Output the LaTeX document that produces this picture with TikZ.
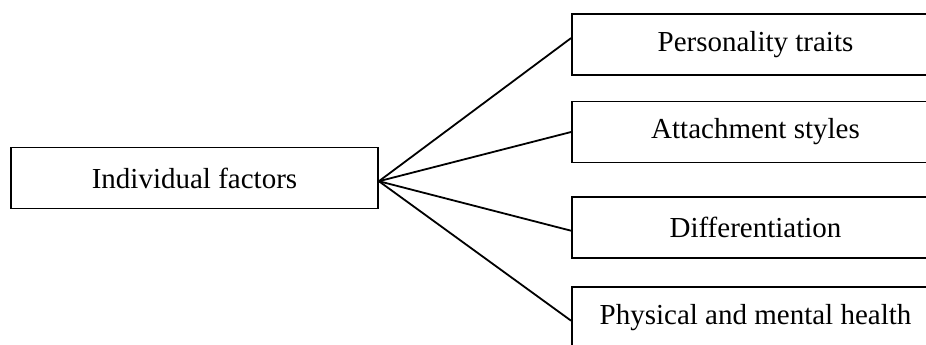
\documentclass[tikz,border=0pt]{standalone}
\usepackage{fontspec}
\setmainfont{Liberation Serif}

\begin{document}
\begin{tikzpicture}[x=1pt,y=-1pt,-,line width=1.8pt,main node/.style={rectangle,draw,minimum width=367pt,minimum height=61pt,inner sep=0pt,font=\fontsize{29}{34}\selectfont}]

            \useasboundingbox (0,0) rectangle (926,345);

            \node[main node] (0) at (194.5,178) {Individual factors};
            \node[main node] (1) at (755.5,44.5) {Personality traits};
            \node[main node] (2) at (755.5,132) {Attachment styles};
            \node[main node] (3) at (755.5,227.5) {Differentiation};
            \node[main node] (4) at (755.5,317.5) {Physical and mental health};

            \draw[-] (0.-1.2) to (1.178.6);
            \draw[-] (0.-1.2) to (2.180);
            \draw[-] (0.-1.2) to (3.181.7);
            \draw[-] (0.-1.2) to (4.181.4);

            ;
        \end{tikzpicture}
\end{document}
